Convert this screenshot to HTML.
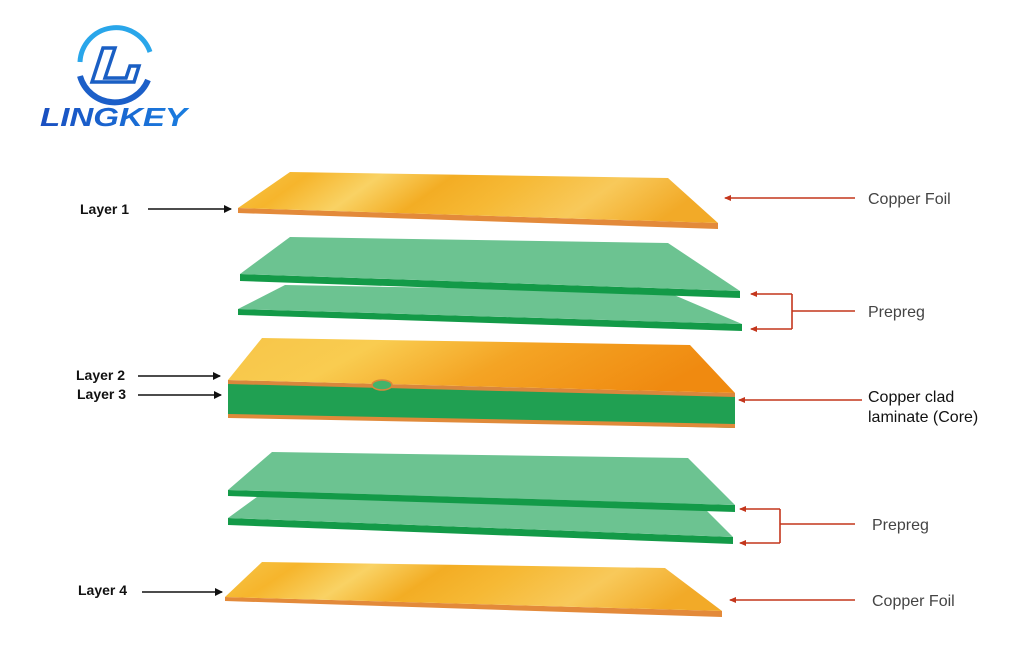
<!DOCTYPE html>
<html><head><meta charset="utf-8"><style>
html,body{margin:0;padding:0;background:#fff;width:1024px;height:670px;overflow:hidden}
svg{display:block}
</style></head><body>
<svg width="1024" height="670" viewBox="0 0 1024 670" xmlns="http://www.w3.org/2000/svg" font-family="Liberation Sans, sans-serif">
<defs>
<linearGradient id="cu" x1="0" y1="0" x2="1" y2="0.15">
<stop offset="0" stop-color="#f7c64a"/><stop offset="0.15" stop-color="#f6b52c"/><stop offset="0.3" stop-color="#f9d264"/><stop offset="0.45" stop-color="#f3ad24"/><stop offset="0.6" stop-color="#f6b935"/><stop offset="0.8" stop-color="#f8c95a"/><stop offset="1" stop-color="#f2aa28"/>
</linearGradient>
<linearGradient id="cu2" x1="0" y1="0" x2="1" y2="0.2">
<stop offset="0" stop-color="#f7c548"/><stop offset="0.3" stop-color="#f9cc50"/><stop offset="0.6" stop-color="#f4a424"/><stop offset="1" stop-color="#f08a10"/>
</linearGradient>
<linearGradient id="cb" x1="0" y1="0" x2="1" y2="0">
<stop offset="0" stop-color="#1a4fc0"/><stop offset="1" stop-color="#1a7ee0"/>
</linearGradient>
<marker id="ab" markerWidth="8" markerHeight="8" refX="7" refY="4" orient="auto" markerUnits="userSpaceOnUse"><path d="M0,0 L8,4 L0,8 Z" fill="#111"/></marker>
<marker id="ar" markerWidth="7" markerHeight="6" refX="6" refY="3" orient="auto" markerUnits="userSpaceOnUse"><path d="M0,0 L7,3 L0,6 Z" fill="#c4361c"/></marker>
</defs>

<!-- logo -->
<path d="M80,62 A36,36 0 0 1 150,52" fill="none" stroke="#29a6ea" stroke-width="5"/>
<path d="M80,76 A36,36 0 0 0 148,80" fill="none" stroke="#1c5fc8" stroke-width="6"/>
<path d="M103,48 L115,48 L105,78 L126,78 L130,66 L139,66 L134,82 L92,82 Z" fill="none" stroke="#1a5fc4" stroke-width="3.5"/>
<text x="40" y="126" font-size="26" font-weight="bold" font-style="italic" fill="url(#cb)" textLength="147" lengthAdjust="spacingAndGlyphs">LINGKEY</text>

<!-- copper foil 1 -->
<polygon points="238,208 718,223 718,229 238,213" fill="#e38a3a"/>
<polygon points="290,172 668,178 718,223 238,208" fill="url(#cu)"/>

<!-- prepreg 2 (behind) -->
<polygon points="238,309 742,324 742,331 238,315" fill="#139a48"/>
<polygon points="285,285 667,292 742,324 238,309" fill="#6cc391"/>
<!-- prepreg 1 -->
<polygon points="240,274 740,291 740,298 240,281" fill="#139a48"/>
<polygon points="290,237 668,243 740,291 240,274" fill="#6cc391"/>

<!-- core -->
<polygon points="228,382 735,395 735,428 228,416" fill="#20a052"/>
<polygon points="228,414 735,424 735,428 228,418" fill="#e08a3a"/>
<polygon points="228,380 735,393 735,397 228,384" fill="#d9873c"/>
<polygon points="262,338 690,345 735,393 228,380" fill="url(#cu2)"/>
<ellipse cx="382" cy="385" rx="10" ry="5" fill="#45b36a" stroke="#d9873c" stroke-width="1.5"/>

<!-- prepreg 4 (behind) -->
<polygon points="228,518 733,537 733,544 228,525" fill="#139a48"/>
<polygon points="272,486 688,492 733,537 228,518" fill="#6cc391"/>
<!-- prepreg 3 -->
<polygon points="228,490 735,505 735,512 228,496" fill="#139a48"/>
<polygon points="272,452 688,458 735,505 228,490" fill="#6cc391"/>

<!-- copper foil 4 -->
<polygon points="225,597 722,611 722,617 225,601" fill="#e38a3a"/>
<polygon points="262,562 665,568 722,611 225,597" fill="url(#cu)"/>

<!-- left labels -->
<g font-size="14" font-weight="bold" fill="#111">
<text x="80" y="214">Layer 1</text>
<text x="76" y="380">Layer 2</text>
<text x="77" y="399">Layer 3</text>
<text x="78" y="595">Layer 4</text>
</g>
<g stroke="#111" stroke-width="1.6" marker-end="url(#ab)">
<line x1="148" y1="209" x2="231" y2="209"/>
<line x1="138" y1="376" x2="220" y2="376"/>
<line x1="138" y1="395" x2="221" y2="395"/>
<line x1="142" y1="592" x2="222" y2="592"/>
</g>

<!-- right connectors -->
<g stroke="#c4361c" stroke-width="1.6" fill="none">
<line x1="855" y1="198" x2="725" y2="198" marker-end="url(#ar)"/>
<polyline points="792,294 792,329"/>
<line x1="792" y1="294" x2="751" y2="294" marker-end="url(#ar)"/>
<line x1="792" y1="329" x2="751" y2="329" marker-end="url(#ar)"/>
<line x1="792" y1="311" x2="855" y2="311"/>
<line x1="862" y1="400" x2="739" y2="400" marker-end="url(#ar)"/>
<polyline points="780,509 780,543"/>
<line x1="780" y1="509" x2="740" y2="509" marker-end="url(#ar)"/>
<line x1="780" y1="543" x2="740" y2="543" marker-end="url(#ar)"/>
<line x1="780" y1="524" x2="855" y2="524"/>
<line x1="855" y1="600" x2="730" y2="600" marker-end="url(#ar)"/>
</g>
<g font-size="16" fill="#444">
<text x="868" y="204">Copper Foil</text>
<text x="868" y="317">Prepreg</text>
<text x="872" y="530">Prepreg</text>
<text x="872" y="606">Copper Foil</text>
</g>
<g font-size="16" fill="#111">
<text x="868" y="402">Copper clad</text>
<text x="868" y="422">laminate (Core)</text>
</g>
</svg>
</body></html>
